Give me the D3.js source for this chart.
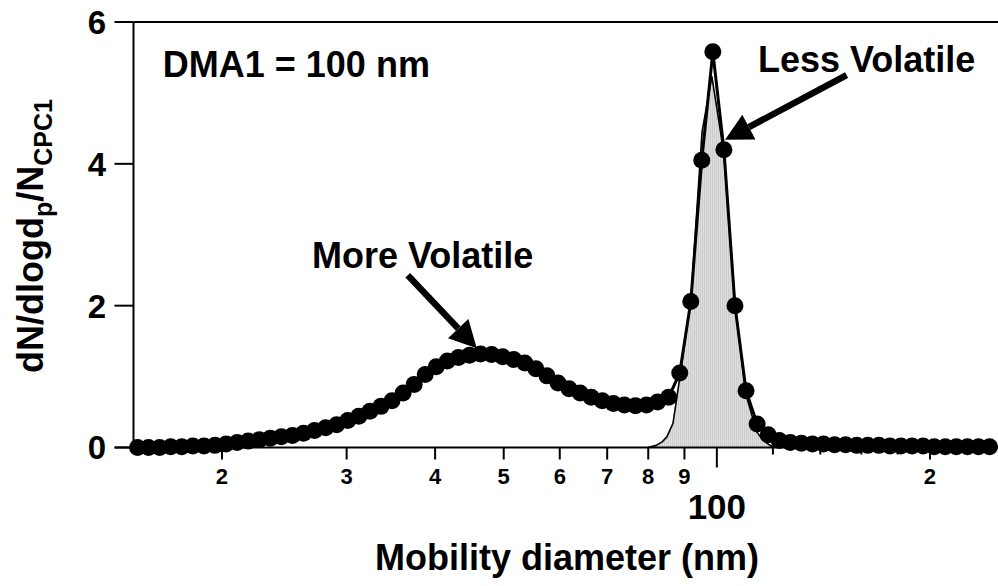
<!DOCTYPE html>
<html>
<head>
<meta charset="utf-8">
<script src="https://cdn.jsdelivr.net/npm/d3@7"></script>
<style>
  html, body { margin: 0; padding: 0; background: #fff; }
  svg { display: block; font-family: Arial, "Liberation Sans", Helvetica, sans-serif; font-weight: bold; }
</style>
</head>
<body>
<svg id="chart" width="998" height="586"></svg>
<script>
// Measured mobility diameters (nm) of the SMPS channels
const diameters = [
  15.20, 15.75, 16.33, 16.93, 17.55, 18.19, 18.86, 19.55, 20.27, 21.01,
  21.78, 22.58, 23.40, 24.26, 25.15, 26.07, 27.03, 28.02, 29.04, 30.11,
  31.21, 32.36, 33.54, 34.77, 36.05, 37.37, 38.74, 40.15, 41.63, 43.15,
  44.73, 46.37, 48.07, 49.83, 51.66, 53.55, 55.51, 57.55, 59.66, 61.84,
  64.11, 66.46, 68.89, 71.42, 74.03, 76.75, 79.56, 82.47, 85.50, 88.63,
  91.88, 95.21, 98.70, 102.32, 106.07, 109.96, 113.99, 118.16, 122.49, 126.98,
  131.64, 136.46, 141.46, 146.65, 152.02, 157.59, 163.37, 169.36, 175.56, 181.99,
  188.66, 195.58, 202.75, 210.18, 217.88, 225.87, 234.15, 242.73
];

// Normalised size distribution dN/dlogdp / N_CPC1 after the thermodenuder
const dndlogdp = [
  0.00, 0.00, 0.00, 0.01, 0.01, 0.02, 0.02, 0.03, 0.05, 0.07,
  0.09, 0.11, 0.13, 0.15, 0.17, 0.20, 0.24, 0.28, 0.32, 0.38,
  0.44, 0.51, 0.58, 0.66, 0.77, 0.89, 1.03, 1.14, 1.22, 1.27,
  1.30, 1.32, 1.31, 1.28, 1.24, 1.19, 1.11, 1.01, 0.91, 0.83,
  0.77, 0.71, 0.66, 0.62, 0.60, 0.59, 0.60, 0.64, 0.71, 1.05,
  2.06, 4.05, 5.58, 4.20, 2.00, 0.80, 0.33, 0.18, 0.10, 0.07,
  0.06, 0.05, 0.05, 0.04, 0.04, 0.03, 0.03, 0.03, 0.02, 0.02,
  0.02, 0.02, 0.01, 0.01, 0.01, 0.01, 0.01, 0.01
];

// Transfer function of the classifying DMA (shaded)
const fitDiameters = [79.9, 82.1, 83.7, 85.0, 86.7, 88.7, 91.9, 95.3, 98.4, 102.3, 106.1, 109.9, 112.1, 113.9, 116.2, 118.9, 121.2];
const fitValues    = [0.00, 0.03, 0.08, 0.15, 0.34, 1.00, 2.08, 4.45, 5.23, 4.15, 2.00, 0.75, 0.45, 0.22, 0.10, 0.03, 0.00];

// Axis ticks
const yTicks = [0, 2, 4, 6];
const xLabelTicks = [20, 30, 40, 50, 60, 70, 80, 90, 200];
const xLabelText  = ["2", "3", "4", "5", "6", "7", "8", "9", "2"];
const xMajorTick = 100;
const xMinorTicks = [120, 140, 160, 180];

// Annotations (data coordinates)
const caption = { text: "DMA1 = 100 nm", d: 16.5, v: 5.23 };
const labels = [
  { text: "More Volatile", d: 26.8, v: 2.53 },
  { text: "Less Volatile", d: 114.3, v: 5.30 }
];
const arrows = [
  { from: [36.6, 2.43], to: [45.8, 1.40] },
  { from: [152.5, 5.25], to: [102.7, 4.34] }
];

const svg = d3.select("#chart");
const W = 998, H = 586;
svg.append("rect").attr("width", W).attr("height", H).attr("fill", "#fff");

const x = d3.scaleLog().domain([15, 250]).range([133.5, 998.6]);
const y = d3.scaleLinear().domain([0, 6]).range([447.5, 22]);
const x0 = x.range()[0];

// hatched grey fill for the transfer function
const defs = svg.append("defs");
const pat = defs.append("pattern").attr("id", "greyfill")
  .attr("patternUnits", "userSpaceOnUse").attr("width", 2).attr("height", 4);
pat.append("rect").attr("width", 2).attr("height", 4).attr("fill", "#dedede");
pat.append("rect").attr("width", 1).attr("height", 4).attr("fill", "#cdcdcd");

const fitPts = fitDiameters.map((d, i) => [d, fitValues[i]]);
svg.append("path")
  .datum(fitPts)
  .attr("fill", "url(#greyfill)")
  .attr("d", d3.area().x(p => x(p[0])).y0(y(0)).y1(p => y(p[1])));

// Axes
const axisG = svg.append("g").attr("stroke", "#000").attr("stroke-width", 2).attr("fill", "none");
// top frame line
axisG.append("line").attr("x1", x0).attr("x2", W).attr("y1", y(6)).attr("y2", y(6));
// y axis
axisG.append("line").attr("x1", x0).attr("x2", x0).attr("y1", y(6)).attr("y2", y(0));
yTicks.forEach(t => {
  axisG.append("line").attr("x1", x0 - 19).attr("x2", x0).attr("y1", y(t)).attr("y2", y(t));
});
// x axis
axisG.append("line").attr("x1", x0 - 19).attr("x2", W).attr("y1", y(0)).attr("y2", y(0));
xLabelTicks.forEach(t => {
  axisG.append("line").attr("x1", x(t)).attr("x2", x(t)).attr("y1", y(0)).attr("y2", y(0) + 12);
});
axisG.append("line").attr("x1", x(xMajorTick)).attr("x2", x(xMajorTick)).attr("y1", y(0)).attr("y2", y(0) + 20);
xMinorTicks.forEach(t => {
  axisG.append("line").attr("x1", x(t)).attr("x2", x(t)).attr("y1", y(0)).attr("y2", y(0) + 7);
});

// y tick labels
svg.append("g").selectAll("text").data(yTicks).join("text")
  .attr("x", 106).attr("y", d => y(d)).attr("dy", "0.36em")
  .attr("text-anchor", "end").attr("font-size", 33).text(d => d);

// x tick labels
svg.append("g").selectAll("text").data(xLabelTicks).join("text")
  .attr("x", d => x(d)).attr("y", 484)
  .attr("text-anchor", "middle").attr("font-size", 22)
  .text((d, i) => xLabelText[i]);
svg.append("text").attr("x", x(xMajorTick)).attr("y", 519)
  .attr("text-anchor", "middle").attr("font-size", 35).text(xMajorTick);

// axis titles
svg.append("text").attr("x", 567).attr("y", 570)
  .attr("text-anchor", "middle").attr("font-size", 36).text("Mobility diameter (nm)");

const yl = svg.append("text")
  .attr("transform", "translate(43,236) rotate(-90)")
  .attr("text-anchor", "middle").attr("font-size", 36);
yl.append("tspan").text("dN/dlogd");
yl.append("tspan").attr("font-size", 25).attr("dy", 9).text("p");
yl.append("tspan").attr("dy", -9).text("/N");
yl.append("tspan").attr("font-size", 25).attr("dy", 9).text("CPC1");

// transfer function outline
svg.append("path")
  .datum(fitPts)
  .attr("fill", "none").attr("stroke", "#000").attr("stroke-width", 1.6)
  .attr("stroke-linejoin", "round")
  .attr("d", d3.line().x(p => x(p[0])).y(p => y(p[1])));

// measured distribution
const pts = diameters.map((d, i) => [d, dndlogdp[i]]);
svg.append("path")
  .datum(pts)
  .attr("fill", "none").attr("stroke", "#000").attr("stroke-width", 3)
  .attr("stroke-linejoin", "round")
  .attr("d", d3.line().x(p => x(p[0])).y(p => y(p[1])));
svg.append("g").selectAll("circle").data(pts).join("circle")
  .attr("cx", p => x(p[0])).attr("cy", p => y(p[1])).attr("r", 8.5).attr("fill", "#000");

// annotations
svg.append("text").attr("x", x(caption.d)).attr("y", y(caption.v))
  .attr("font-size", 36).text(caption.text);
svg.append("g").selectAll("text").data(labels).join("text")
  .attr("x", d => x(d.d)).attr("y", d => y(d.v))
  .attr("font-size", 36).text(d => d.text);

arrows.forEach(a => {
  const x1 = x(a.from[0]), y1 = y(a.from[1]);
  const x2 = x(a.to[0]), y2 = y(a.to[1]);
  const ang = Math.atan2(y2 - y1, x2 - x1);
  const headLen = 27, headHalf = 14;
  const bx = x2 - headLen * Math.cos(ang), by = y2 - headLen * Math.sin(ang);
  svg.append("line").attr("x1", x1).attr("y1", y1).attr("x2", bx).attr("y2", by)
    .attr("stroke", "#000").attr("stroke-width", 6.5);
  const px = -Math.sin(ang) * headHalf, py = Math.cos(ang) * headHalf;
  svg.append("path")
    .attr("d", `M${x2},${y2}L${bx + px},${by + py}L${bx - px},${by - py}Z`)
    .attr("fill", "#000");
});
</script>
</body>
</html>
